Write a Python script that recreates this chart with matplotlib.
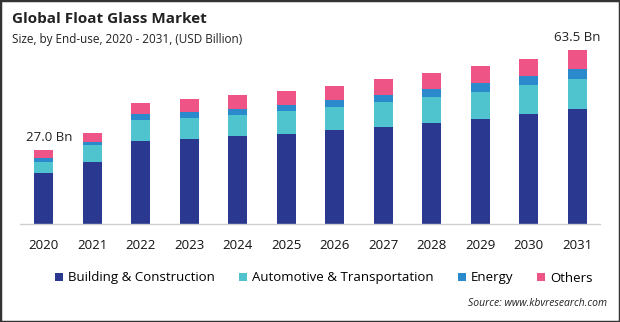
import matplotlib
matplotlib.use("Agg")
import matplotlib.pyplot as plt
import numpy as np
from matplotlib.patches import Rectangle

plt.rcParams['font.family'] = ['Open Sans', 'DejaVu Sans']

years = ["2020", "2021", "2022", "2023", "2024", "2025",
         "2026", "2027", "2028", "2029", "2030", "2031"]
building = [18.5, 22.7, 30.3, 31.0, 32.1, 32.8, 34.3, 35.4, 37.0, 38.3, 40.1, 42.0]
automotive = [4.3, 6.1, 7.7, 7.7, 7.7, 8.4, 8.4, 9.1, 9.5, 10.0, 10.6, 10.9]
energy = [1.2, 1.3, 2.1, 2.3, 2.2, 2.2, 2.6, 2.6, 2.8, 3.3, 3.4, 3.6]
others = [3.0, 3.2, 4.2, 4.6, 5.1, 5.1, 5.1, 5.8, 5.9, 6.2, 6.1, 7.0]
series_names = ["Building & Construction", "Automotive & Transportation", "Energy", "Others"]
colors = ["#2a388f", "#4fc3ce", "#2b8acb", "#ee5485"]
end_labels = {0: "27.0 Bn", 11: "63.5 Bn"}

fig = plt.figure(figsize=(6.2, 3.22), dpi=100)
ax = fig.add_axes([20 / 620, 98 / 322, 580 / 620, 191.8 / 322])

x = np.arange(len(years))
bottom = np.zeros(len(years))
handles = []
for vals, col, name in zip([building, automotive, energy, others], colors, series_names):
    b = ax.bar(x, vals, width=0.39, bottom=bottom, color=col, label=name, zorder=2)
    handles.append(b)
    bottom += np.array(vals)

# etiquettes de total sur la premiere et la derniere barre
for i, txt in end_labels.items():
    dx = 4 if i == 0 else 0
    ax.annotate(txt, (x[i], bottom[i]), xytext=(dx, 4), textcoords="offset points",
                ha="center", va="bottom", fontsize=9.5, color="#222222")

ax.set_xlim(-0.485, 11.47)
ax.set_ylim(0, 70)
ax.set_yticks([])
ax.set_xticks(x)
ax.set_xticklabels(years, fontsize=9.5, color="#111111")
ax.tick_params(axis="x", length=0, pad=11)
for s in ["top", "right", "left"]:
    ax.spines[s].set_visible(False)
ax.spines["bottom"].set_color("#d0d0d0")
ax.spines["bottom"].set_linewidth(1)

fig.text(12 / 620, 1 - 19 / 322, "Global Float Glass Market", fontsize=11,
         fontweight="bold", color="#222222", va="center")
fig.text(12 / 620, 1 - 39 / 322, "Size, by End-use, 2020 - 2031, (USD Billion)",
         fontsize=8.5, color="#222222", va="center")

fig.legend(handles=handles, labels=series_names, loc="center", ncol=4,
           bbox_to_anchor=(324 / 620, 1 - 278 / 322), frameon=False, fontsize=9.5,
           handlelength=0.6, handleheight=0.6, handletextpad=0.4, columnspacing=1.8)

fig.text(607 / 620, 1 - 304 / 322, "Source: www.kbvresearch.com", fontsize=7.5,
         style="italic", color="#222222", ha="right", va="center")

fig.patches.append(Rectangle((0, 0), 1, 1, transform=fig.transFigure, fill=False,
                             edgecolor="#333333", linewidth=2.5))

fig.savefig("out.png", dpi=100)
